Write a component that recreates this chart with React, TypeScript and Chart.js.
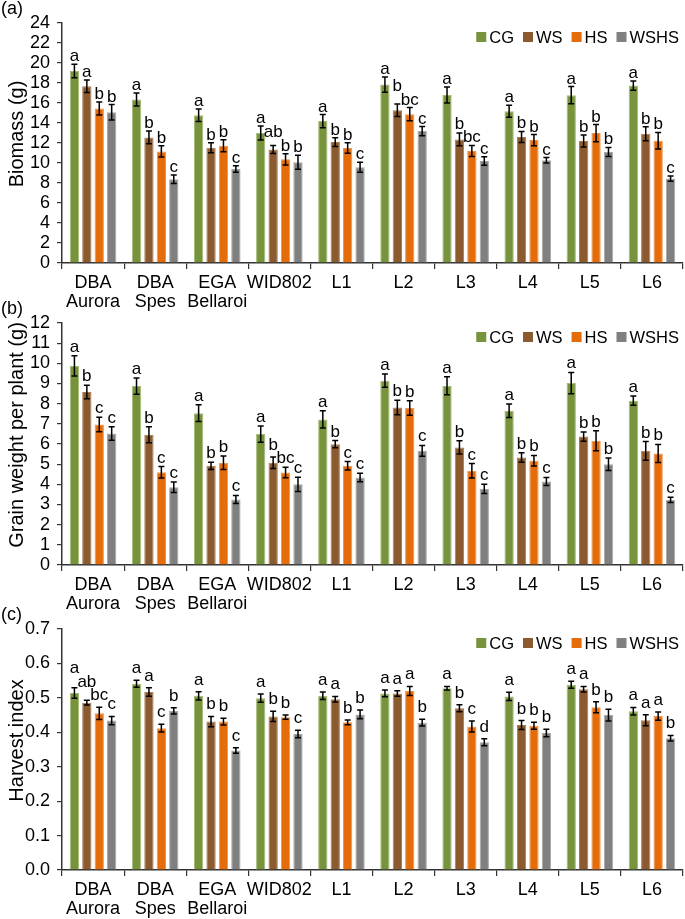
import { useEffect, useRef } from "react"
import { Chart, registerables } from "chart.js"

Chart.register(...registerables)

const FONT = "'Liberation Sans', Arial, sans-serif"

const genotypes = [
  ["DBA", "Aurora"],
  ["DBA", "Spes"],
  ["EGA", "Bellaroi"],
  "WID802",
  "L1",
  "L2",
  "L3",
  "L4",
  "L5",
  "L6",
]
const treatments = ["CG", "WS", "HS", "WSHS"]
const treatmentColors = ["#77933C", "#8B5A2E", "#E46C0A", "#808080"]
const treatmentBorders = ["#A3BA78", "#A67C57", "#EE9548", "#A8A8A8"]

// (a) biomass (g), rows = CG, WS, HS, WSHS
const biomassMean = [
  [19.2, 16.35, 14.78, 12.99, 14.19, 17.84, 16.81, 15.18, 16.78, 17.74],
  [17.67, 12.56, 11.53, 11.36, 12.09, 15.28, 12.36, 12.6, 12.19, 12.92],
  [15.45, 11.16, 11.73, 10.37, 11.5, 14.88, 11.2, 12.29, 12.99, 12.23],
  [15.08, 8.37, 9.4, 10.07, 9.57, 13.19, 10.2, 10.27, 11.1, 8.44],
]
const biomassErr = [
  [0.67, 0.66, 0.63, 0.7, 0.66, 0.76, 0.8, 0.6, 0.86, 0.46],
  [0.63, 0.63, 0.5, 0.4, 0.43, 0.63, 0.63, 0.56, 0.6, 0.7],
  [0.66, 0.57, 0.6, 0.56, 0.53, 0.66, 0.56, 0.56, 0.86, 0.83],
  [0.77, 0.43, 0.33, 0.7, 0.5, 0.46, 0.43, 0.27, 0.46, 0.27],
]
const biomassLetters = [
  ["a", "a", "a", "a", "a", "a", "a", "a", "a", "a"],
  ["a", "b", "b", "ab", "b", "b", "b", "b", "b", "b"],
  ["b", "b", "b", "b", "b", "bc", "bc", "b", "b", "b"],
  ["b", "c", "c", "b", "c", "c", "c", "c", "b", "c"],
]

// (b) grain weight per plant (g)
const grainMean = [
  [9.87, 8.87, 7.53, 6.49, 7.22, 9.14, 8.89, 7.65, 9.02, 8.15],
  [8.58, 6.46, 4.92, 5.07, 5.99, 7.81, 5.83, 5.33, 6.37, 5.66],
  [6.97, 4.6, 5.07, 4.59, 4.92, 7.78, 4.67, 5.17, 6.16, 5.53],
  [6.52, 3.86, 3.25, 4.0, 4.34, 5.66, 3.77, 4.14, 5.0, 3.23],
]
const grainErr = [
  [0.5, 0.4, 0.42, 0.4, 0.43, 0.33, 0.45, 0.33, 0.53, 0.23],
  [0.33, 0.4, 0.18, 0.28, 0.18, 0.36, 0.33, 0.23, 0.23, 0.46],
  [0.36, 0.28, 0.33, 0.26, 0.21, 0.36, 0.36, 0.26, 0.5, 0.45],
  [0.33, 0.26, 0.2, 0.35, 0.21, 0.27, 0.23, 0.2, 0.31, 0.13],
]
const grainLetters = [
  ["a", "a", "a", "a", "a", "a", "a", "a", "a", "a"],
  ["b", "b", "b", "b", "b", "b", "b", "b", "b", "b"],
  ["c", "c", "b", "bc", "c", "b", "c", "b", "b", "b"],
  ["c", "c", "c", "c", "c", "c", "c", "c", "b", "c"],
]

// (c) harvest index
const hiMean = [
  [0.514, 0.541, 0.506, 0.499, 0.506, 0.513, 0.528, 0.504, 0.538, 0.461],
  [0.486, 0.517, 0.431, 0.446, 0.496, 0.513, 0.47, 0.421, 0.525, 0.435],
  [0.455, 0.412, 0.431, 0.444, 0.429, 0.52, 0.417, 0.419, 0.473, 0.447],
  [0.434, 0.462, 0.347, 0.395, 0.452, 0.428, 0.371, 0.398, 0.45, 0.383],
]
const hiErr = [
  [0.015, 0.01, 0.012, 0.012, 0.011, 0.01, 0.005, 0.012, 0.01, 0.011],
  [0.007, 0.012, 0.015, 0.015, 0.008, 0.008, 0.01, 0.013, 0.008, 0.016],
  [0.018, 0.011, 0.01, 0.006, 0.007, 0.013, 0.016, 0.01, 0.016, 0.012],
  [0.012, 0.009, 0.008, 0.011, 0.013, 0.01, 0.01, 0.011, 0.017, 0.008],
]
const hiLetters = [
  ["a", "a", "a", "a", "a", "a", "a", "a", "a", "a"],
  ["ab", "a", "b", "b", "a", "a", "b", "b", "a", "a"],
  ["bc", "c", "b", "b", "b", "a", "c", "b", "b", "a"],
  ["c", "b", "c", "c", "b", "b", "d", "b", "b", "b"],
]

interface PanelProps {
  tag: string
  yTitle: string
  means: number[][]
  errs: number[][]
  letters: string[][]
  yMax: number
  yStep: number
  decimals: number
  top: number
  height: number
  plotTop: number
  plotBottom: number
  letterGap: number
}

function Panel(props: PanelProps) {
  const chartRef = useRef<HTMLCanvasElement>(null)
  const chartInstance = useRef<Chart | null>(null)

  useEffect(() => {
    if (!chartRef.current) return
    if (chartInstance.current) chartInstance.current.destroy()
    const ctx = chartRef.current.getContext("2d")
    if (!ctx) return

    const { means, errs, letters, height, plotTop, plotBottom, letterGap } = props

    // error bars, significance letters, legend, panel tag and y title
    const decorations = {
      id: "decorations",
      afterDatasetsDraw(chart: Chart) {
        const c = chart.ctx
        const y = chart.scales.y
        const area = chart.chartArea
        c.save()

        const letterSize = 17
        c.font = `${letterSize}px ${FONT}`
        c.textAlign = "center"
        c.textBaseline = "alphabetic"
        for (let g = 0; g < genotypes.length; g++) {
          const boxes: { x0: number; x1: number; y0: number; y1: number }[] = []
          for (let s = treatments.length - 1; s >= 0; s--) {
            const el: any = chart.getDatasetMeta(s).data[g]
            const x = el.x
            const hi = y.getPixelForValue(means[s][g] + errs[s][g])
            const lo = y.getPixelForValue(means[s][g] - errs[s][g])
            c.strokeStyle = "#000"
            c.lineWidth = 1.5
            c.beginPath()
            c.moveTo(x, hi)
            c.lineTo(x, lo)
            c.moveTo(x - 3, hi)
            c.lineTo(x + 3, hi)
            c.moveTo(x - 3, lo)
            c.lineTo(x + 3, lo)
            c.stroke()

            const text = letters[s][g]
            const w = c.measureText(text).width
            const h = (/[bd]/.test(text) ? 0.73 : 0.53) * letterSize
            let base = hi - letterGap
            let moved = true
            while (moved) {
              moved = false
              for (const b of boxes) {
                if (x - w / 2 < b.x1 - 1 && x + w / 2 > b.x0 + 1 && base > b.y0 && base - h < b.y1) {
                  base = b.y0 - 1
                  moved = true
                }
              }
            }
            c.fillStyle = "#000"
            c.fillText(text, x, base)
            boxes.push({ x0: x - w / 2, x1: x + w / 2, y0: base - h, y1: base })
          }
        }

        // legend, top right inside the plot
        c.font = `16.5px ${FONT}`
        c.textAlign = "left"
        c.textBaseline = "middle"
        const box = 10
        const widths = treatments.map((t) => c.measureText(t).width)
        const total = widths.reduce((a, b) => a + b, 0) + treatments.length * (box + 3) + (treatments.length - 1) * 9
        let lx = 679 - total
        const ly = area.top + 14
        treatments.forEach((t, i) => {
          c.fillStyle = treatmentColors[i]
          c.fillRect(lx, ly - box / 2, box, box)
          c.fillStyle = "#000"
          c.fillText(t, lx + box + 3, ly + 1)
          lx += box + 3 + widths[i] + 9
        })

        c.font = `18px ${FONT}`
        c.fillText(props.tag, 1, area.top - 14)

        c.font = `20px ${FONT}`
        c.textAlign = "center"
        c.translate(17, (area.top + area.bottom) / 2 - 9)
        c.rotate(-Math.PI / 2)
        c.fillText(props.yTitle, 0, 0)
        c.restore()
      },
    }

    chartInstance.current = new Chart(ctx, {
      type: "bar",
      data: {
        labels: genotypes,
        datasets: treatments.map((t, i) => ({
          label: t,
          data: means[i],
          backgroundColor: treatmentColors[i],
          borderColor: treatmentBorders[i],
          borderWidth: 1,
          categoryPercentage: 0.8,
          barPercentage: 0.75,
        })),
      },
      options: {
        responsive: false,
        animation: false,
        layout: { padding: { top: plotTop, right: 2, left: 0, bottom: 0 } },
        scales: {
          x: {
            grid: { drawOnChartArea: false, tickLength: 6, color: "#333", lineWidth: 1.2 },
            border: { color: "#333", width: 1.5 },
            ticks: {
              color: "#000",
              font: { family: FONT, size: 18, lineHeight: 1.05 },
              padding: 5,
              maxRotation: 0,
              autoSkip: false,
            },
            afterFit: (scale: any) => {
              scale.height = height - plotBottom
            },
          },
          y: {
            min: 0,
            max: props.yMax,
            grid: { drawOnChartArea: false, tickLength: 5, color: "#333", lineWidth: 1.2 },
            border: { color: "#333", width: 1.5 },
            ticks: {
              stepSize: props.yStep,
              autoSkip: false,
              color: "#000",
              padding: 7,
              font: { family: FONT, size: 18 },
              callback: (v: any) => Number(v).toFixed(props.decimals),
            },
            afterFit: (scale: any) => {
              scale.width = 62
            },
          },
        },
        plugins: {
          legend: { display: false },
          tooltip: { enabled: false },
        },
      },
      plugins: [decorations],
    })

    return () => {
      if (chartInstance.current) {
        chartInstance.current.destroy()
        chartInstance.current = null
      }
    }
  }, [props])

  return (
    <div style={{ position: "absolute", left: 0, top: props.top, width: 685, height: props.height }}>
      <canvas ref={chartRef} width={685} height={props.height} />
    </div>
  )
}

export default function App() {
  useEffect(() => {
    document.body.style.margin = "0"
    document.body.style.overflow = "hidden"
  }, [])

  return (
    <div style={{ position: "relative", width: 685, height: 919, overflow: "hidden", background: "#fff" }}>
      <Panel
        tag="(a)"
        yTitle="Biomass (g)"
        means={biomassMean}
        errs={biomassErr}
        letters={biomassLetters}
        yMax={24}
        yStep={2}
        decimals={0}
        top={0}
        height={320}
        plotTop={23}
        plotBottom={263}
        letterGap={3}
      />
      <Panel
        tag="(b)"
        yTitle="Grain weight per plant (g)"
        means={grainMean}
        errs={grainErr}
        letters={grainLetters}
        yMax={12}
        yStep={1}
        decimals={0}
        top={300}
        height={320}
        plotTop={23}
        plotBottom={265}
        letterGap={4}
      />
      <Panel
        tag="(c)"
        yTitle="Harvest index"
        means={hiMean}
        errs={hiErr}
        letters={hiLetters}
        yMax={0.7}
        yStep={0.1}
        decimals={1}
        top={599}
        height={320}
        plotTop={30}
        plotBottom={271}
        letterGap={7}
      />
    </div>
  )
}
